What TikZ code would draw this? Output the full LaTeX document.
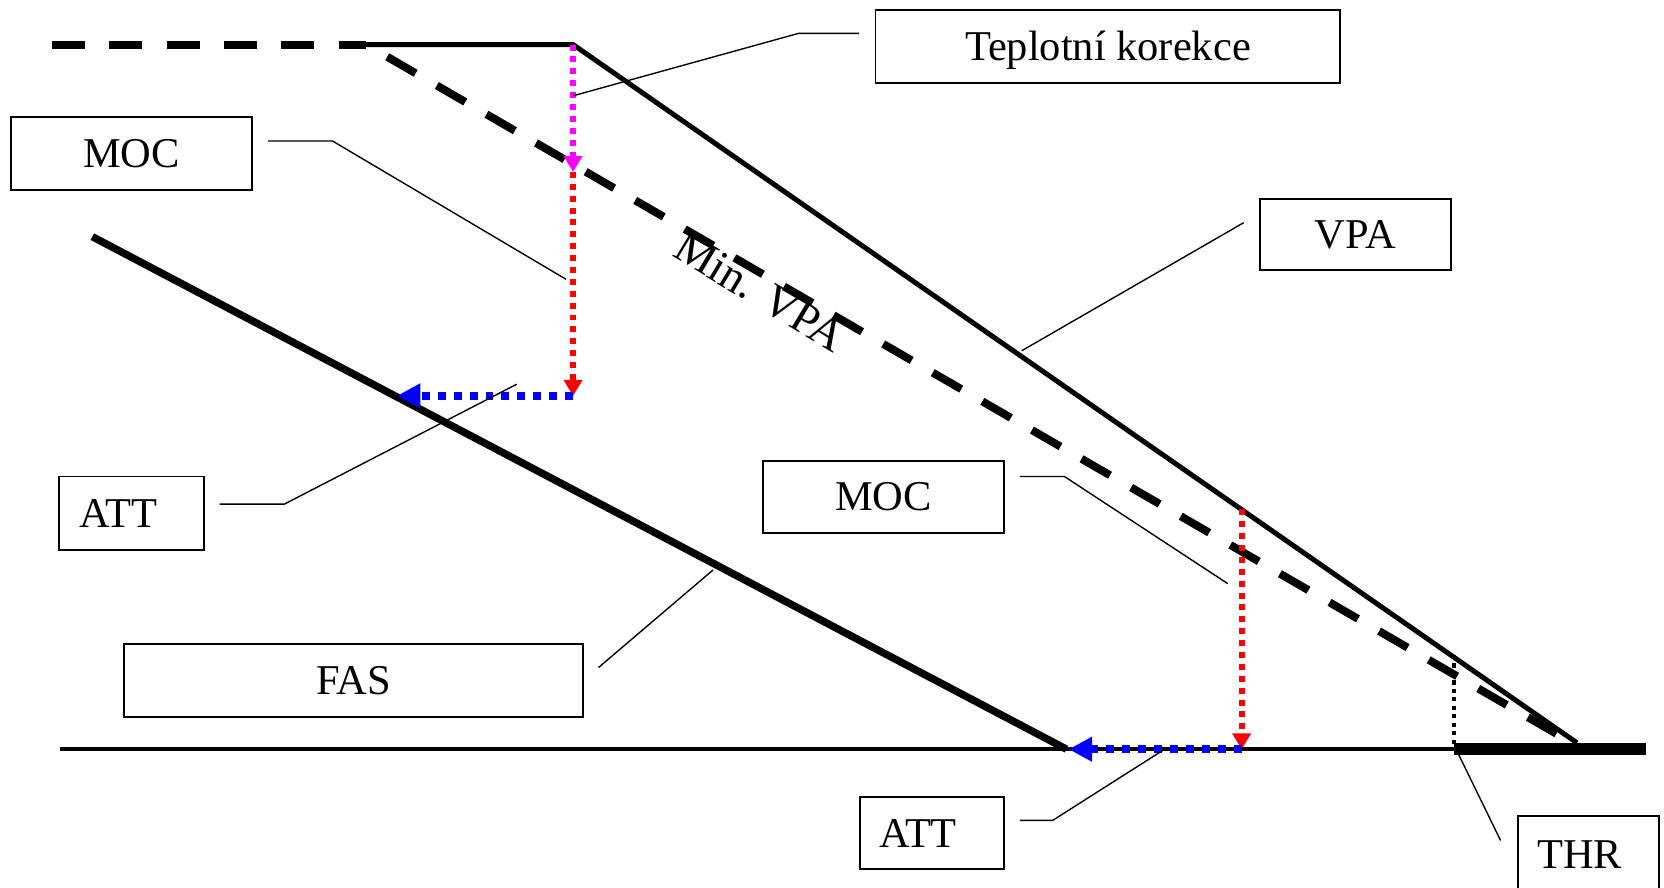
\documentclass[tikz,border=0pt]{standalone}
\usepackage{fontspec}
\setmainfont{Liberation Serif}
\usetikzlibrary{arrows.meta}
\definecolor{puremagenta}{RGB}{255,0,255}
\definecolor{purered}{RGB}{255,0,0}
\definecolor{pureblue}{RGB}{0,0,255}
\begin{document}
\begin{tikzpicture}[x=1pt,y=-1pt,
  box/.style={draw, line width=1.8pt, inner sep=0pt, text height=26.5pt, text depth=0pt,
              font=\fontsize{40}{45}\selectfont},
  leader/.style={line width=1.3pt},
  thinline/.style={line width=3.8pt},
  dashline/.style={line width=7.5pt, dash pattern=on 31pt off 23pt},
  reddot/.style={line width=5.6pt, dash pattern=on 5.6pt off 5.6pt, purered},
  magdot/.style={line width=5.6pt, dash pattern=on 5.6pt off 5.6pt, puremagenta},
  bluedot/.style={line width=7.5pt, dash pattern=on 7.5pt off 7.5pt, pureblue},
  smalltip/.style={-{Triangle[length=15pt,width=17pt]}},
  bigtip/.style={-{Triangle[length=22pt,width=22pt]}}
]
\useasboundingbox (0,0) rectangle (1568,836);

% key points
\coordinate (dashstart) at (49,42);
\coordinate (bend) at (345,42);
\coordinate (top) at (540,42);
\coordinate (vpaend) at (1486,700);
\coordinate (minend) at (1478,698);
\coordinate (gleft) at (57,706);
\coordinate (thrpt) at (1370,706);
\coordinate (rwend) at (1551,706);
\coordinate (fastop) at (87,223);
\coordinate (fasend) at (1005,706);
\coordinate (m1) at (540,162);
\coordinate (m2) at (540,373);
\coordinate (b1) at (374,373);
\coordinate (r2top) at (1170,480);
\coordinate (r2bot) at (1170,706);
\coordinate (b2) at (1007,706);
\coordinate (thrtop) at (1370,617);

% ground and runway
\draw[thinline] (gleft) -- (thrpt);
\draw[line width=11pt] (thrpt) -- (rwend);

% FAS
\draw[line width=7pt] (fastop) -- (fasend);

% VPA line
\draw[line width=4.7pt] (bend) -- (top) -- (vpaend);

% dashed lines
\draw[dashline] (dashstart) -- (bend);
\draw[dashline, dash phase=31pt] (bend) -- (minend);

% Min. VPA label
\node[rotate=-31, anchor=base, inner sep=0pt, font=\fontsize{43}{48}\selectfont] (minvpa) at (709,287) {Min. VPA};

% dotted arrows
\draw[magdot, smalltip] (top) -- (m1);
\draw[reddot, smalltip] (m1) -- (m2);
\draw[bluedot, bigtip] (m2) -- (b1);
\draw[reddot, smalltip] (r2top) -- (r2bot);
\draw[bluedot, bigtip] (r2bot) -- (b2);
\draw[line width=3.8pt, dash pattern=on 4pt off 4pt] (thrtop) -- (thrpt);

% boxes
\node[box, minimum width=438pt, minimum height=68.6pt] (tk) at (1044,43.7) {Teplotní korekce};
\node[box, minimum width=227pt, minimum height=69pt] (moc1) at (124,144.5) {MOC};
\node[box, minimum width=180pt, minimum height=67.5pt] (vpa) at (1277,221) {VPA};
\node[box, minimum width=136pt, minimum height=69pt] (att1) at (124,483.5) {\hspace*{-25pt}ATT};
\node[box, minimum width=227pt, minimum height=68pt] (moc2) at (832.5,468) {MOC};
\node[box, minimum width=432.5pt, minimum height=69pt] (fas) at (333,641.5) {FAS};
\node[box, minimum width=136pt, minimum height=68pt] (att2) at (878,785) {\hspace*{-26pt}ATT};
\node[box, minimum width=133pt, minimum height=72pt] (thr) at (1496.5,805) {\hspace*{-16pt}THR};

% leaders
\coordinate (tkA) at (809.6,31.4);
\coordinate (tkB) at (752.6,31.4);
\coordinate (tkC) at (541,90);
\draw[leader] (tkA) -- (tkB) -- (tkC);

\coordinate (mocA) at (252.4,132.9);
\coordinate (mocB) at (313.4,132.9);
\coordinate (mocC) at (533.4,263.2);
\draw[leader] (mocA) -- (mocB) -- (mocC);

\coordinate (vpaA) at (1172,209.8);
\coordinate (vpaB) at (962.8,330.5);
\draw[leader] (vpaA) -- (vpaB);

\coordinate (attA) at (207,475);
\coordinate (attB) at (268,475);
\coordinate (attC) at (487,362);
\draw[leader] (attA) -- (attB) -- (attC);

\coordinate (moc2A) at (961,449);
\coordinate (moc2B) at (1003,449);
\coordinate (moc2C) at (1157,550);
\draw[leader] (moc2A) -- (moc2B) -- (moc2C);

\coordinate (fasA) at (564,629);
\coordinate (fasB) at (672,537);
\draw[leader] (fasA) -- (fasB);

\coordinate (att2A) at (961,773);
\coordinate (att2B) at (992,773);
\coordinate (att2C) at (1099,705);
\draw[leader] (att2A) -- (att2B) -- (att2C);

\coordinate (thrA) at (1414,792);
\coordinate (thrB) at (1374,710);
\draw[leader] (thrA) -- (thrB);
\end{tikzpicture}
\end{document}
